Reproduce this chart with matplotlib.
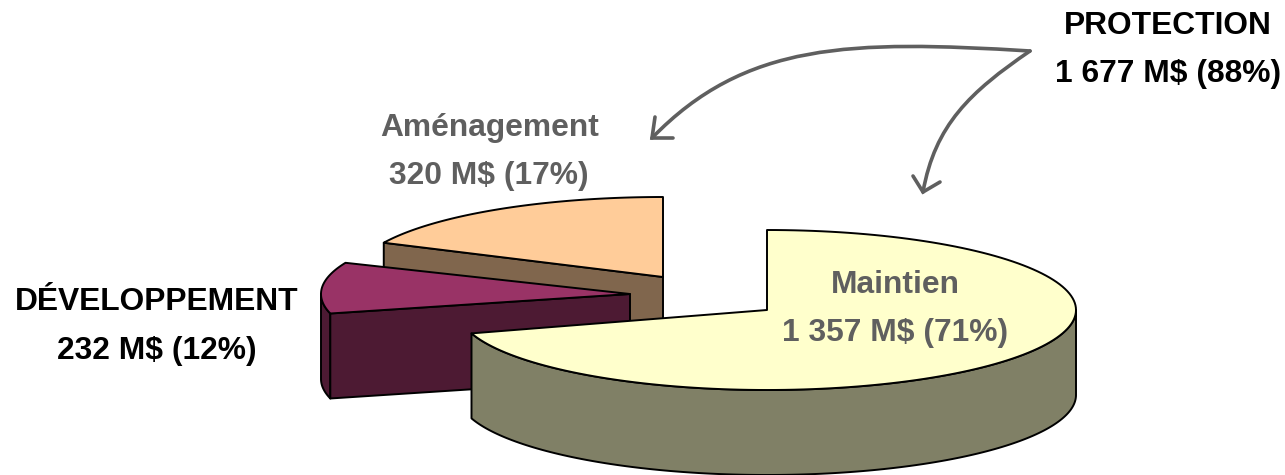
import numpy as np
import matplotlib
matplotlib.use("Agg")
import matplotlib.pyplot as plt
from matplotlib.patches import Polygon, PathPatch
from matplotlib.path import Path

# ---------- Data ----------
slices = ["Maintien", "DÉVELOPPEMENT", "Aménagement"]
values = [1357, 232, 320]
value_labels = ["1 357 M$ (71%)", "232 M$ (12%)", "320 M$ (17%)"]
total_name = "PROTECTION"
total_label = "1 677 M$ (88%)"

# ---------- Styles ----------
top_colors = ["#FFFFCC", "#993366", "#FFCC99"]
side_colors = ["#808066", "#4D1A33", "#80664D"]
GREY = "#5F5F5F"
EDGE = "#000000"
DEPTH = 85
RX, RY = 309, 80

plt.rcParams["font.family"] = ["Liberation Sans", "DejaVu Sans"]

fig = plt.figure(figsize=(12.85, 4.75), dpi=100)
ax = fig.add_axes([0, 0, 1, 1])
ax.set_xlim(0, 1285)
ax.set_ylim(475, 0)
ax.axis("off")


def arc(cx, cy, a, b, drop=0):
    t = np.radians(np.linspace(a, b, 150))
    return np.column_stack([cx + RX * np.cos(t), cy - RY * np.sin(t) + drop])


def face(pts, color, z):
    ax.add_patch(Polygon(pts, closed=True, facecolor=color, edgecolor=EDGE,
                         linewidth=1.4, joinstyle="round", zorder=z))


# ---------- Angles from the values (clockwise from 12 o'clock) ----------
sweep = 360 * np.array(values) / sum(values)
a_maintien = 90 - sweep[0]
a_dev = a_maintien + 360 - sweep[1]
# the original 3D projection bends the boundaries a little
maintien_end = a_maintien + 2.9
dev_start = a_maintien + 360
dev_end = a_dev + 6.7
amen_start = a_dev + 4.3

# ---------- Aménagement (back) ----------
c = (663, 277)
rim = arc(*c, amen_start, 90)
p = rim[0]
face([p, c, (c[0], c[1] + DEPTH), (p[0], p[1] + DEPTH)], side_colors[2], 1)
face(np.vstack([rim, [c]]), top_colors[2], 2)

# ---------- Développement (middle) ----------
c = (630, 294)
rim = arc(*c, dev_start, dev_end)
p = rim[0]
outer = arc(*c, dev_start, 180)
face(np.vstack([outer, arc(*c, 180, dev_start, DEPTH)]), side_colors[1], 3)
face([p, c, (c[0], c[1] + DEPTH), (p[0], p[1] + DEPTH)], side_colors[1], 3)
face(np.vstack([rim, [c]]), top_colors[1], 4)

# ---------- Maintien (front) ----------
c = (767, 310)
outer = arc(*c, maintien_end, 0)
face(np.vstack([outer, arc(*c, 0, maintien_end, DEPTH)]), side_colors[0], 5)
face(np.vstack([arc(*c, 90, maintien_end), [c]]), top_colors[0], 6)

# ---------- Labels ----------
FS = 22.9
ax.text(895, 285, slices[0], color=GREY, fontsize=FS, fontweight="bold", ha="center", va="center", zorder=9)
ax.text(895, 333, value_labels[0], color=GREY, fontsize=FS, fontweight="bold", ha="center", va="center", zorder=9)
ax.text(490, 128, slices[2], color=GREY, fontsize=FS, fontweight="bold", ha="center", va="center")
ax.text(489, 176, value_labels[2], color=GREY, fontsize=FS, fontweight="bold", ha="center", va="center")
ax.text(157, 302, slices[1], color="black", fontsize=FS, fontweight="bold", ha="center", va="center")
ax.text(157, 351, value_labels[1], color="black", fontsize=FS, fontweight="bold", ha="center", va="center")
ax.text(1168, 26, total_name, color="black", fontsize=FS, fontweight="bold", ha="center", va="center")
ax.text(1168, 74, total_label, color="black", fontsize=FS, fontweight="bold", ha="center", va="center")

# ---------- Curved arrows ----------
curves = [
    [(1030, 51), (850, 40), (745, 42), (652, 138)],
    [(1030, 51), (970, 92), (935, 125), (923, 192)],
]
barbs = [
    [(655, 117), (652, 138), (673, 138)],
    [(913, 176), (923, 192), (940, 182)],
]
for pts in curves:
    path = Path(pts, [Path.MOVETO, Path.CURVE4, Path.CURVE4, Path.CURVE4])
    ax.add_patch(PathPatch(path, facecolor="none", edgecolor=GREY, linewidth=2.6, capstyle="round"))
for pts in barbs:
    xs, ys = zip(*pts)
    ax.plot(xs, ys, color=GREY, linewidth=2.6, solid_capstyle="round", solid_joinstyle="miter")

fig.savefig("out.png", dpi=100, facecolor="white")
